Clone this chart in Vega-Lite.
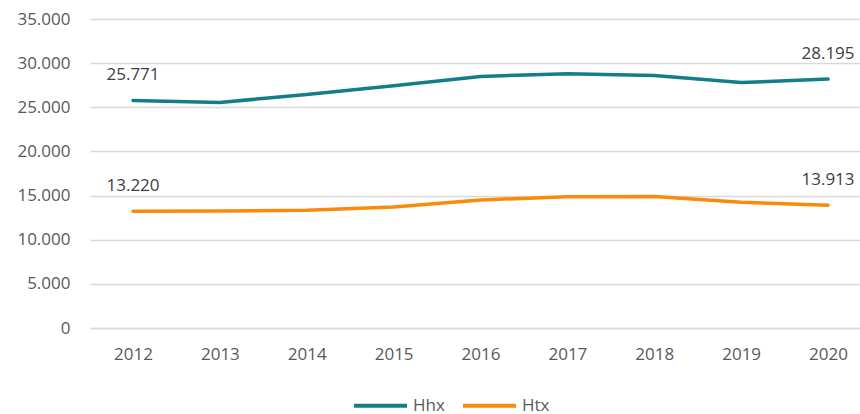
{
  "$schema": "https://vega.github.io/schema/vega-lite/v6.json",
  "width": 770,
  "height": 309,
  "autosize": {"type": "none"},
  "padding": {"left": 90, "top": 19, "right": 0, "bottom": 86},
  "background": "white",
  "config": {
    "view": {"stroke": null},
    "font": "Open Sans",
    "locale": {"number": {"decimal": ",", "thousands": ".", "grouping": [3], "currency": ["", ""]}}
  },
  "data": {
    "values": [
      {"year": 2012, "series": "Hhx", "value": 25771},
      {"year": 2013, "series": "Hhx", "value": 25550},
      {"year": 2014, "series": "Hhx", "value": 26450},
      {"year": 2015, "series": "Hhx", "value": 27450},
      {"year": 2016, "series": "Hhx", "value": 28500},
      {"year": 2017, "series": "Hhx", "value": 28800},
      {"year": 2018, "series": "Hhx", "value": 28600},
      {"year": 2019, "series": "Hhx", "value": 27800},
      {"year": 2020, "series": "Hhx", "value": 28195},
      {"year": 2012, "series": "Htx", "value": 13220},
      {"year": 2013, "series": "Htx", "value": 13250},
      {"year": 2014, "series": "Htx", "value": 13350},
      {"year": 2015, "series": "Htx", "value": 13700},
      {"year": 2016, "series": "Htx", "value": 14500},
      {"year": 2017, "series": "Htx", "value": 14880},
      {"year": 2018, "series": "Htx", "value": 14900},
      {"year": 2019, "series": "Htx", "value": 14250},
      {"year": 2020, "series": "Htx", "value": 13913}
    ]
  },
  "encoding": {
    "x": {
      "field": "year",
      "type": "quantitative",
      "scale": {"domain": [2011.505, 2020.368], "nice": false, "zero": false},
      "axis": {
        "title": null,
        "values": [2012, 2013, 2014, 2015, 2016, 2017, 2018, 2019, 2020],
        "format": "d",
        "grid": false,
        "ticks": false,
        "domain": true,
        "domainColor": "#d9d9d9",
        "domainWidth": 1.5,
        "labelFont": "Open Sans",
        "labelFontSize": 17,
        "labelColor": "#595959",
        "labelPadding": 18,
        "labelFlush": false
      }
    },
    "y": {
      "field": "value",
      "type": "quantitative",
      "scale": {"domain": [0, 35000], "nice": false},
      "axis": {
        "title": null,
        "values": [0, 5000, 10000, 15000, 20000, 25000, 30000, 35000],
        "format": ",d",
        "grid": true,
        "gridColor": "#d9d9d9",
        "gridWidth": 1.5,
        "ticks": false,
        "domain": false,
        "labelFont": "Open Sans",
        "labelFontSize": 17,
        "labelColor": "#595959",
        "labelPadding": 20
      }
    },
    "color": {
      "field": "series",
      "type": "nominal",
      "scale": {"domain": ["Hhx", "Htx"], "range": ["#127e88", "#fa8a0c"]},
      "legend": {
        "title": null,
        "orient": "none",
        "direction": "horizontal",
        "legendX": 262,
        "legendY": 358,
        "padding": 0,
        "symbolType": "stroke",
        "symbolSize": 2800,
        "symbolStrokeWidth": 4,
        "labelFont": "Open Sans",
        "labelFontSize": 17,
        "labelColor": "#595959",
        "labelOffset": 4,
        "columnPadding": 10
      }
    }
  },
  "layer": [
    {
      "mark": {"type": "line", "strokeWidth": 3.5, "strokeCap": "round"}
    },
    {
      "transform": [{"filter": "datum.year == 2012 || datum.year == 2020"}],
      "mark": {"type": "text", "dy": -20, "baseline": "alphabetic", "fontSize": 17, "font": "Open Sans", "color": "#404040"},
      "encoding": {
        "text": {"field": "value", "type": "quantitative", "format": ",d"},
        "color": {"value": "#404040"}
      }
    }
  ]
}
